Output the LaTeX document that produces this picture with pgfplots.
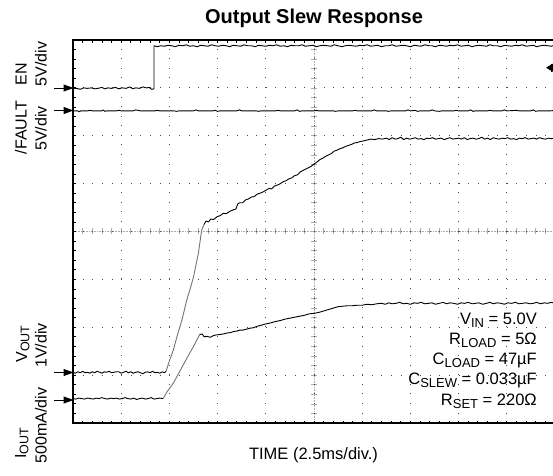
\documentclass[border=0pt]{standalone}
\usepackage{fontspec}
\setmainfont{Liberation Sans}
\usepackage{pgfplots}
\pgfplotsset{compat=1.18}
\usetikzlibrary{arrows.meta}
\newcommand{\sub}[1]{\raisebox{-3pt}{\fontsize{13}{13}\selectfont #1}}
\newcommand{\lsub}[1]{\raisebox{-2.5pt}{\fontsize{12.5}{12.5}\selectfont #1}}
\begin{document}
\begin{tikzpicture}
% centre crosshair of the scope graticule
\draw[gray!65, line width=0.8pt, dash pattern=on 0.8pt off 0.8pt] (0,191.6pt) -- (482pt,191.6pt);
\draw[gray!65, line width=0.8pt, dash pattern=on 0.8pt off 0.8pt] (241pt,0) -- (241pt,383pt);
\foreach \i in {1,...,49} \draw[gray!65, line width=0.7pt] ({\i*9.64pt},188.6pt) -- ++(0,6pt);
\foreach \i in {1,...,39} \draw[gray!65, line width=0.7pt] (238pt,{\i*9.575pt}) -- ++(6pt,0);
\begin{axis}[
  at={(0,0)}, anchor=south west, scale only axis,
  width=482pt, height=383pt,
  xmin=0, xmax=10, ymin=0, ymax=8,
  xtick={0,...,10}, ytick={0,...,8},
  minor x tick num=4, minor y tick num=4,
  xticklabels={}, yticklabels={},
  tick align=inside, major tick length=2.5pt, minor tick length=2.5pt,
  every tick/.style={black, line width=0.8pt},
  grid=major,
  x grid style={black!70, line width=0.9pt, dash pattern=on 0.9pt off 8.675pt},
  y grid style={black!70, line width=0.9pt, dash pattern=on 0.9pt off 8.74pt},
  axis line style={line width=1.2pt},
]
% EN
\addplot[black, line width=0.9pt, line join=round] coordinates {
(0,6.99) (0.08,6.99) (0.15,6.97) (0.22,7.00) (0.3,6.99) (0.38,7.00) (0.45,6.98) (0.52,6.99)
(0.6,7.01) (0.66,6.98) (0.72,7.00) (0.8,6.99) (0.88,7.01) (0.95,6.98) (1.02,7.00) (1.1,6.99)
(1.18,7.02) (1.24,6.98) (1.3,7.00) (1.38,6.99) (1.45,7.02) (1.52,7.00) (1.58,7.01) (1.63,6.97)
(1.68,6.98) (1.68,7.88)
(1.75,7.86) (1.82,7.88) (1.9,7.87) (1.97,7.89) (2.05,7.88) (2.12,7.86) (2.2,7.89) (2.28,7.88)
(2.35,7.90) (2.42,7.87) (2.5,7.88) (2.58,7.86) (2.65,7.89) (2.72,7.88) (2.8,7.87) (2.88,7.90)
(2.95,7.88) (3.02,7.87) (3.1,7.89) (3.18,7.88) (3.25,7.86) (3.32,7.89) (3.4,7.88) (3.48,7.87)
(3.55,7.90) (3.62,7.88) (3.7,7.88) (3.78,7.86) (3.85,7.89) (3.92,7.88) (4.0,7.87) (4.08,7.89)
(4.15,7.88) (4.22,7.90) (4.3,7.87) (4.38,7.88) (4.45,7.86) (4.52,7.89) (4.6,7.88) (4.68,7.88)
(4.75,7.90) (4.82,7.87) (4.9,7.88) (4.98,7.89) (5.05,7.86) (5.12,7.88) (5.2,7.89) (5.28,7.88)
(5.35,7.87) (5.42,7.90) (5.5,7.88) (5.58,7.86) (5.65,7.88) (5.72,7.89) (5.8,7.88) (5.88,7.87)
(5.95,7.89) (6.02,7.88) (6.1,7.90) (6.18,7.87) (6.25,7.88) (6.32,7.89) (6.4,7.86) (6.48,7.88)
(6.55,7.88) (6.62,7.90) (6.7,7.87) (6.78,7.88) (6.85,7.89) (6.92,7.88) (7.0,7.86) (7.08,7.89)
(7.15,7.88) (7.22,7.87) (7.3,7.90) (7.38,7.88) (7.45,7.88) (7.52,7.86) (7.6,7.89) (7.68,7.88)
(7.75,7.87) (7.82,7.89) (7.9,7.88) (7.98,7.90) (8.05,7.87) (8.12,7.88) (8.2,7.89) (8.28,7.86)
(8.35,7.88) (8.42,7.89) (8.5,7.88) (8.58,7.87) (8.65,7.90) (8.72,7.88) (8.8,7.88) (8.88,7.86)
(8.95,7.89) (9.02,7.88) (9.1,7.87) (9.18,7.89) (9.25,7.88) (9.32,7.90) (9.4,7.87) (9.48,7.88)
(9.55,7.89) (9.62,7.86) (9.7,7.88) (9.78,7.89) (9.85,7.88) (9.92,7.87) (10,7.89)
};
% /FAULT
\addplot[black, line width=0.9pt, line join=round] coordinates {
(0,6.52) (0.1,6.52) (0.13,6.50) (0.16,6.52) (0.3,6.52) (0.35,6.53) (0.4,6.52) (0.6,6.52)
(0.63,6.54) (0.66,6.51) (0.7,6.52) (0.9,6.52) (0.95,6.53) (1.0,6.52) (1.25,6.52) (1.3,6.54)
(1.35,6.53) (1.4,6.52) (1.7,6.52) (1.75,6.53) (1.8,6.52) (2.1,6.52) (2.15,6.51) (2.2,6.52)
(2.5,6.52) (2.55,6.54) (2.6,6.52) (2.9,6.52) (2.95,6.53) (3.0,6.51) (3.05,6.52) (3.4,6.52)
(3.45,6.54) (3.5,6.52) (3.8,6.52) (3.85,6.51) (3.9,6.52) (4.2,6.52) (4.25,6.53) (4.3,6.52)
(4.6,6.52) (4.65,6.54) (4.7,6.51) (4.75,6.52) (5.0,6.52) (5.05,6.53) (5.1,6.52) (5.4,6.52)
(5.45,6.51) (5.5,6.52) (5.8,6.52) (5.85,6.53) (5.9,6.52) (6.2,6.52) (6.25,6.54) (6.3,6.52)
(6.5,6.52) (6.55,6.51) (6.6,6.52) (6.9,6.52) (6.95,6.54) (7.0,6.52) (7.1,6.53) (7.15,6.51)
(7.2,6.52) (7.4,6.52) (7.45,6.54) (7.5,6.52) (7.6,6.51) (7.65,6.52) (7.9,6.52) (7.95,6.53)
(8.0,6.52) (8.2,6.52) (8.25,6.54) (8.3,6.51) (8.35,6.52) (8.6,6.52) (8.65,6.53) (8.7,6.52)
(8.9,6.52) (8.95,6.54) (9.0,6.52) (9.2,6.53) (9.25,6.52) (9.5,6.52) (9.55,6.54) (9.6,6.51)
(9.65,6.52) (9.9,6.52) (10,6.53)
};
% VOUT baseline
\addplot[black, line width=0.9pt, line join=round] coordinates {
(0,1.06) (0.05,1.04) (0.1,1.07) (0.15,1.05) (0.2,1.08) (0.25,1.05) (0.3,1.06) (0.35,1.04)
(0.4,1.07) (0.45,1.05) (0.5,1.08) (0.55,1.06) (0.6,1.04) (0.65,1.07) (0.7,1.06) (0.75,1.08)
(0.8,1.05) (0.85,1.06) (0.9,1.07) (0.95,1.07) (1.0,1.04) (1.05,1.06) (1.1,1.08) (1.15,1.05)
(1.2,1.07) (1.25,1.04) (1.3,1.06) (1.35,1.07) (1.4,1.05) (1.45,1.03) (1.5,1.06) (1.55,1.07)
(1.6,1.05) (1.65,1.08) (1.7,1.05) (1.75,1.06) (1.8,1.04) (1.85,1.07) (1.9,1.05) (1.93,1.08)
};
% VOUT ramp (fast edge, drawn lighter as on the scope)
\addplot[black!55, line width=0.9pt, line join=round] coordinates {
(1.93,1.08) (2.0,1.30) (2.08,1.52) (2.17,1.85) (2.26,2.15) (2.36,2.57) (2.43,2.80) (2.50,3.05)
(2.60,3.54) (2.67,4.03) (2.72,4.15)
};
% VOUT after edge
\addplot[black, line width=0.9pt, line join=round] coordinates {
(2.72,4.15) (2.76,4.22) (2.81,4.20) (2.86,4.26) (2.92,4.25) (2.99,4.31) (3.05,4.33)
(3.12,4.38) (3.18,4.37) (3.25,4.42) (3.32,4.45) (3.38,4.47) (3.42,4.58) (3.46,4.60) (3.52,4.60)
(3.58,4.66) (3.64,4.68) (3.70,4.72) (3.76,4.73) (3.82,4.78) (3.88,4.80) (3.95,4.83) (4.0,4.86)
(4.07,4.90) (4.12,4.89) (4.18,4.95) (4.24,4.97) (4.30,5.00) (4.36,5.04) (4.42,5.06) (4.48,5.10)
(4.54,5.12) (4.60,5.17) (4.65,5.18) (4.71,5.24) (4.76,5.27) (4.82,5.30) (4.88,5.33) (4.94,5.36)
(5.0,5.41) (5.06,5.45) (5.12,5.50) (5.18,5.53) (5.24,5.57) (5.30,5.60) (5.36,5.63) (5.42,5.68)
(5.48,5.70) (5.54,5.73) (5.60,5.75) (5.66,5.78) (5.72,5.80) (5.78,5.82) (5.84,5.85) (5.90,5.86)
(5.96,5.88) (6.02,5.89) (6.1,5.91) (6.18,5.93) (6.26,5.92) (6.34,5.94) (6.42,5.93)
(6.5,5.95) (6.56,5.92) (6.62,5.96) (6.68,5.93) (6.74,5.94) (6.8,5.97) (6.86,5.92) (6.92,5.95)
(6.98,5.93) (7.04,5.94) (7.1,5.96) (7.16,5.93) (7.22,5.94) (7.28,5.92) (7.34,5.95) (7.4,5.94)
(7.46,5.96) (7.52,5.93) (7.58,5.94) (7.64,5.95) (7.7,5.92) (7.76,5.94) (7.82,5.96) (7.88,5.93)
(7.94,5.94) (8.0,5.95) (8.06,5.93) (8.12,5.96) (8.18,5.92) (8.24,5.94) (8.3,5.95) (8.36,5.93)
(8.42,5.94) (8.48,5.97) (8.54,5.93) (8.6,5.95) (8.66,5.92) (8.72,5.96) (8.78,5.94) (8.84,5.93)
(8.9,5.95) (8.96,5.94) (9.02,5.96) (9.08,5.93) (9.14,5.94) (9.2,5.92) (9.26,5.95) (9.32,5.94)
(9.38,5.96) (9.44,5.93) (9.5,5.94) (9.56,5.95) (9.62,5.93) (9.68,5.96) (9.74,5.94) (9.8,5.93)
(9.86,5.95) (9.92,5.94) (10,5.95)
};
% IOUT baseline
\addplot[black, line width=0.9pt, line join=round] coordinates {
(0,0.51) (0.06,0.50) (0.12,0.52) (0.18,0.51) (0.24,0.50) (0.3,0.52) (0.36,0.51) (0.42,0.50)
(0.48,0.52) (0.54,0.51) (0.6,0.53) (0.66,0.51) (0.72,0.50) (0.78,0.52) (0.84,0.51) (0.9,0.52)
(0.96,0.50) (1.02,0.51) (1.08,0.53) (1.14,0.51) (1.2,0.50) (1.26,0.52) (1.32,0.49) (1.38,0.51)
(1.44,0.52) (1.5,0.50) (1.56,0.51) (1.62,0.53) (1.68,0.50) (1.74,0.51) (1.8,0.52) (1.87,0.51)
};
% IOUT ramp
\addplot[black!55, line width=0.9pt, line join=round] coordinates {
(1.87,0.51) (1.95,0.65) (2.08,0.83) (2.2,1.05) (2.36,1.35) (2.50,1.60) (2.63,1.85)
};
% IOUT after edge
\addplot[black, line width=0.9pt, line join=round] coordinates {
(2.63,1.85) (2.68,1.86) (2.72,1.80)
(2.78,1.81) (2.85,1.79) (2.92,1.83) (2.98,1.84) (3.05,1.85) (3.12,1.86) (3.2,1.88) (3.27,1.89)
(3.33,1.91) (3.40,1.92) (3.46,1.94) (3.52,1.94) (3.6,1.96) (3.67,1.98) (3.74,1.99) (3.82,2.02)
(3.9,2.04) (4.0,2.07) (4.1,2.09) (4.2,2.12) (4.3,2.14) (4.4,2.17) (4.5,2.19) (4.6,2.21)
(4.7,2.23) (4.8,2.25) (4.9,2.28) (5.0,2.29) (5.1,2.31) (5.2,2.34) (5.3,2.37) (5.4,2.40)
(5.5,2.43) (5.6,2.44) (5.7,2.45) (5.8,2.45) (5.9,2.46) (6.0,2.46) (6.1,2.48) (6.2,2.47)
(6.3,2.49) (6.4,2.50) (6.48,2.48) (6.55,2.51) (6.62,2.49) (6.7,2.50) (6.78,2.52) (6.85,2.49)
(6.92,2.50) (7.0,2.48) (7.08,2.51) (7.15,2.50) (7.22,2.52) (7.3,2.49) (7.38,2.50) (7.45,2.51)
(7.52,2.48) (7.6,2.50) (7.68,2.52) (7.75,2.49) (7.82,2.51) (7.9,2.50) (7.98,2.48) (8.05,2.51)
(8.12,2.50) (8.2,2.52) (8.28,2.49) (8.35,2.50) (8.42,2.51) (8.5,2.48) (8.58,2.50) (8.65,2.52)
(8.72,2.49) (8.8,2.51) (8.88,2.50) (8.95,2.48) (9.02,2.51) (9.1,2.50) (9.18,2.52) (9.25,2.49)
(9.32,2.50) (9.4,2.51) (9.48,2.49) (9.55,2.50) (9.62,2.52) (9.7,2.49) (9.78,2.51) (9.85,2.50)
(9.92,2.52) (10,2.50)
};
\end{axis}
% title and x label
\node[anchor=base, font=\fontsize{20}{20}\selectfont\bfseries] at (241pt,400pt) {Output Slew Response};
\node[anchor=base, font=\fontsize{16.5}{16.5}\selectfont] at (240.5pt,-36pt) {TIME (2.5ms/div.)};
% test conditions
\begin{scope}[every node/.style={anchor=base east, font=\fontsize{16.5}{16.5}\selectfont, inner sep=0pt}]
\node at (464pt,99pt) {V\sub{IN} = 5.0V};
\node at (464pt,79pt) {R\sub{LOAD} = 5Ω};
\node at (464pt,59pt) {C\sub{LOAD} = 47µF};
\node at (464pt,39pt) {C\sub{SLEW} = 0.033µF};
\node at (464pt,18pt) {R\sub{SET} = 220Ω};
\end{scope}
% channel labels
\begin{scope}[every node/.style={rotate=90, anchor=base, font=\fontsize{16}{16}\selectfont, inner sep=0pt}]
\node at (-46.3pt,349pt) {EN};
\node at (-26.3pt,359pt) {5V/div};
\node at (-46.3pt,295.5pt) {/FAULT};
\node at (-26.3pt,294.5pt) {5V/div};
\node at (-46pt,79pt) {V\lsub{OUT}};
\node at (-26.3pt,77.5pt) {1V/div};
\node at (-47pt,-20.5pt) {I\lsub{OUT}};
\node at (-26.3pt,-2.5pt) {500mA/div};
\end{scope}
% channel reference arrows
\foreach \yy in {335,312.5,50.5,23}
  \draw[line width=1pt, -{Triangle[length=10pt,width=7pt]}] (-19pt,\yy pt) -- (0.5pt,\yy pt);
% trigger level marker
\draw[line width=1pt, -{Triangle[length=7pt,width=8pt]}] (482pt,355.3pt) -- (473pt,355.3pt);
\draw[line width=1pt] (478.5pt,351.5pt) -- (478.5pt,359pt);
\pgfresetboundingbox
\useasboundingbox (-73pt,-52pt) rectangle (480pt,423pt);
\end{tikzpicture}
\end{document}
